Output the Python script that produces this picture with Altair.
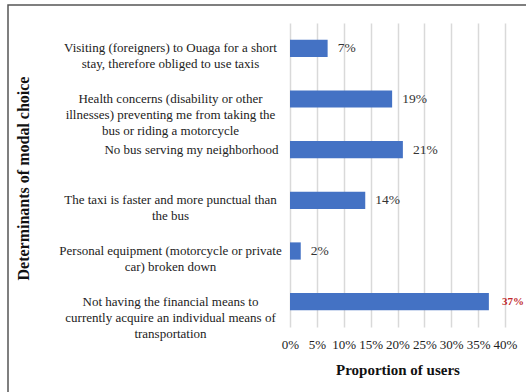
import altair as alt
import pandas as pd

categories = [
    "Visiting (foreigners) to Ouaga for a short|stay, therefore obliged to use taxis",
    "Health concerns (disability or other|illnesses) preventing me from taking the|bus or riding a motorcycle",
    "No bus serving my neighborhood",
    "The taxi is faster and more punctual than|the bus",
    "Personal equipment (motorcycle or private|car) broken down",
    "Not having the financial means to|currently acquire an individual means of|transportation",
]
values = [0.07, 0.19, 0.21, 0.14, 0.02, 0.37]
x_ticks = [0, 0.05, 0.10, 0.15, 0.20, 0.25, 0.30, 0.35, 0.40]

df = pd.DataFrame({"category": categories, "value": values})

FONT = "Liberation Serif"

y_enc = alt.Y(
    "category:N",
    sort=categories,
    scale=alt.Scale(paddingInner=0.66, paddingOuter=0.33),
    axis=alt.Axis(
        title="Determinants of modal choice",
        titleFont=FONT,
        titleFontSize=16,
        titleFontWeight="bold",
        titleColor="#111",
        titleX=-267,
        titleY=155,
        titleAngle=270,
        titleAlign="center",
        titleBaseline="middle",
        labelExpr="split(datum.label, '|')",
        labelFont=FONT,
        labelFontSize=13,
        labelColor="#222",
        labelLineHeight=16,
        labelLimit=400,
        labelBaseline="middle",
        labelAlign={"condition": {"test": "indexof(datum.label, '|') < 0", "value": "right"}, "value": "center"},
        labelPadding={"condition": {"test": "indexof(datum.label, '|') < 0", "value": 12}, "value": 120},
        ticks=False,
        domain=False,
        grid=False,
    ),
)

x_enc = alt.X(
    "value:Q",
    scale=alt.Scale(domain=[0, 0.4], nice=False),
    axis=alt.Axis(
        values=x_ticks,
        tickCount=9,
        format=".0%",
        title="Proportion of users",
        titleFont=FONT,
        titleFontSize=15,
        titleFontWeight="bold",
        titleColor="#111",
        titlePadding=11,
        labelFont=FONT,
        labelFontSize=13,
        labelColor="#222",
        labelPadding=11,
        labelFlush=False,
        labelOverlap=False,
        labelSeparation=0,
        ticks=False,
        domain=False,
        grid=True,
        gridColor="#d9d9d9",
        gridWidth=1.5,
    ),
)

bars = alt.Chart(df).mark_bar(color="#4472C4").encode(x=x_enc, y=y_enc)

labels = alt.Chart(df).transform_joinaggregate(
    maxv="max(value)"
).transform_filter("datum.value < datum.maxv").mark_text(
    align="left", baseline="middle", dx=10, font=FONT, fontSize=13.5, color="#333"
).encode(x="value:Q", y=alt.Y("category:N", sort=categories), text=alt.Text("value:Q", format=".0%"))

top_label = alt.Chart(df).transform_joinaggregate(
    maxv="max(value)"
).transform_filter("datum.value == datum.maxv").mark_text(
    align="left", baseline="middle", dx=13, font=FONT, fontSize=11, fontWeight="bold", color="#C0282D"
).encode(x="value:Q", y=alt.Y("category:N", sort=categories), text=alt.Text("value:Q", format=".0%"))

border = alt.Chart(alt.Data(values=[{"a": 1}])).mark_rect(
    fillOpacity=0, stroke="#555", strokeWidth=1.5
).encode(
    x=alt.value(-282), x2=alt.value(300), y=alt.value(-18), y2=alt.value(400)
)

chart = alt.layer(bars, labels, top_label, border).properties(
    width=215,
    height=304,
    padding={"left": 290, "top": 23, "right": 21, "bottom": 65},
    autosize=alt.AutoSizeParams(type="none"),
    background="white",
).configure_view(stroke=None)

chart.save("out.html", embed_options={"renderer": "svg", "actions": False})
